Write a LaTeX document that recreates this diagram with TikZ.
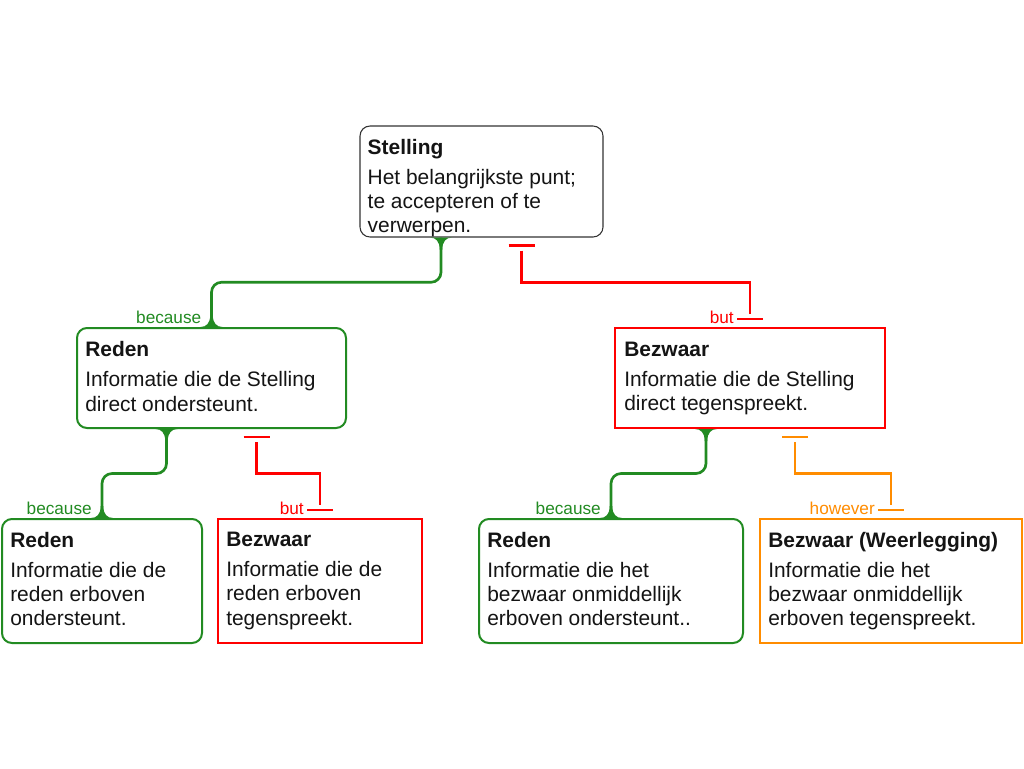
\documentclass[tikz,border=0pt]{standalone}
\usepackage{fontspec}
\setmainfont{Liberation Sans}
\usetikzlibrary{calc}
\definecolor{gcol}{RGB}{34,139,34}
\definecolor{rcol}{RGB}{255,0,0}
\definecolor{ocol}{RGB}{255,140,0}
\definecolor{tcol}{RGB}{20,20,20}
\tikzset{
  box/.style={draw, line width=1.5pt, inner sep=0pt},
  gbox/.style={box, draw=gcol, rounded corners=7.5pt},
  rbox/.style={box, draw=rcol},
  obox/.style={box, draw=ocol},
  sbox/.style={box, draw=black!80, line width=0.8pt, rounded corners=7.5pt},
  txt/.style={anchor=north west, inner sep=0pt, align=left, text=tcol,
    font=\fontsize{15.7}{18.2}\selectfont},
  lbl/.style={anchor=base east, inner sep=0pt, font=\fontsize{12.9}{15}\selectfont},
  conn/.style={line width=2pt},
  gconn/.style={conn, draw=gcol, rounded corners=7.5pt},
  rconn/.style={conn, draw=rcol},
  oconn/.style={conn, draw=ocol},
  flare/.pic={\fill[gcol] (-11,0) .. controls (-5,0) and (-1.3,4) .. (-1.3,12) -- (1.3,12) .. controls (1.3,4) and (5,0) .. (11,0) -- cycle;}
}
\begin{document}
\begin{tikzpicture}[x=0.75pt,y=-0.75pt]
\useasboundingbox[fill=white] (0,0) rectangle (1024,768);

% boxes
\node[sbox, minimum width=182.25pt, minimum height=83.25pt] (s) at (481.5,181.5) {};
\node[gbox, minimum width=201.75pt, minimum height=75pt] (r1) at (211.5,378) {};
\node[rbox, minimum width=202.5pt, minimum height=75pt] (b1) at (750,378) {};
\node[gbox, minimum width=150pt, minimum height=93pt] (r2) at (102,581) {};
\node[rbox, minimum width=153pt, minimum height=93pt] (b2) at (320,581) {};
\node[gbox, minimum width=198pt, minimum height=93pt] (r3) at (611,581) {};
\node[obox, minimum width=196.5pt, minimum height=93pt] (w3) at (891,581) {};

% texts
\node[txt] (ts) at ($(s.north west)+(8,13.5)$) {\textbf{Stelling}\\[4.3pt]Het belangrijkste punt;\\te accepteren of te\\verwerpen.};
\node[txt] (tr1) at ($(r1.north west)+(9,14.5)$) {\textbf{Reden}\\[4.3pt]Informatie die de Stelling\\direct ondersteunt.};
\node[txt] (tb1) at ($(b1.north west)+(10,14.5)$) {\textbf{Bezwaar}\\[4.3pt]Informatie die de Stelling\\direct tegenspreekt.};
\node[txt] (tr2) at ($(r2.north west)+(9,14)$) {\textbf{Reden}\\[4.3pt]Informatie die de\\reden erboven\\ondersteunt.};
\node[txt] (tb2) at ($(b2.north west)+(9,14)$) {\textbf{Bezwaar}\\[4.3pt]Informatie die de\\reden erboven\\tegenspreekt.};
\node[txt] (tr3) at ($(r3.north west)+(9,14)$) {\textbf{Reden}\\[4.3pt]Informatie die het\\bezwaar onmiddellijk\\erboven ondersteunt..};
\node[txt] (tw3) at ($(w3.north west)+(9,14)$) {\textbf{Bezwaar (Weerlegging)}\\[4.3pt]Informatie die het\\bezwaar onmiddellijk\\erboven tegenspreekt.};

% ---- Stelling -> Reden (because)
\coordinate (sg) at ($(s.south)+(-40.5,0)$);
\coordinate (m1) at ($(sg)!0.5!(r1.north)$);
\draw[gconn] (sg) -- (sg |- m1) -- (r1.north |- m1) -- (r1.north);
\pic at (sg) {flare};
\pic[yscale=-1] at (r1.north) {flare};
\node[lbl, text=gcol] (l1) at ($(r1.north)+(-10,-4)$) {because};

% ---- Stelling -> Bezwaar (but)
\coordinate (sr) at ($(s.south)+(40,0)$);
\coordinate (m2) at ($(sr)!0.5!(b1.north)$);
\draw[rconn] ($(sr)+(-13,8)$) -- ++(26,0);
\draw[rconn] ($(sr)+(0,13)$) -- (sr |- m2) -- (b1.north |- m2) -- ($(b1.north)+(0,-13)$);
\draw[rconn] ($(b1.north)+(-13,-8)$) -- ++(26,0);
\node[lbl, text=rcol] (l2) at ($(b1.north)+(-16,-4)$) {but};

% ---- Reden -> Reden (because)
\coordinate (rg) at ($(r1.south)+(-45,0)$);
\coordinate (m3) at ($(rg)!0.5!(r2.north)$);
\draw[gconn] (rg) -- (rg |- m3) -- (r2.north |- m3) -- (r2.north);
\pic at (rg) {flare};
\pic[yscale=-1] at (r2.north) {flare};
\node[lbl, text=gcol] (l3) at ($(r2.north)+(-10,-4)$) {because};

% ---- Reden -> Bezwaar (but)
\coordinate (rr) at ($(r1.south)+(45,0)$);
\coordinate (m4) at ($(rr)!0.5!(b2.north)$);
\draw[rconn] ($(rr)+(-13,8)$) -- ++(26,0);
\draw[rconn] ($(rr)+(0,13)$) -- (rr |- m4) -- (b2.north |- m4) -- ($(b2.north)+(0,-13)$);
\draw[rconn] ($(b2.north)+(-13,-8)$) -- ++(26,0);
\node[lbl, text=rcol] (l4) at ($(b2.north)+(-16,-4)$) {but};

% ---- Bezwaar -> Reden (because)
\coordinate (bg) at ($(b1.south)+(-44,0)$);
\coordinate (m5) at ($(bg)!0.5!(r3.north)$);
\draw[gconn] (bg) -- (bg |- m5) -- (r3.north |- m5) -- (r3.north);
\pic at (bg) {flare};
\pic[yscale=-1] at (r3.north) {flare};
\node[lbl, text=gcol] (l5) at ($(r3.north)+(-10,-4)$) {because};

% ---- Bezwaar -> Weerlegging (however)
\coordinate (bo) at ($(b1.south)+(45,0)$);
\coordinate (m6) at ($(bo)!0.5!(w3.north)$);
\draw[oconn] ($(bo)+(-13,8)$) -- ++(26,0);
\draw[oconn] ($(bo)+(0,13)$) -- (bo |- m6) -- (w3.north |- m6) -- ($(w3.north)+(0,-13)$);
\draw[oconn] ($(w3.north)+(-13,-8)$) -- ++(26,0);
\node[lbl, text=ocol] (l6) at ($(w3.north)+(-16,-4)$) {however};
\end{tikzpicture}
\end{document}
